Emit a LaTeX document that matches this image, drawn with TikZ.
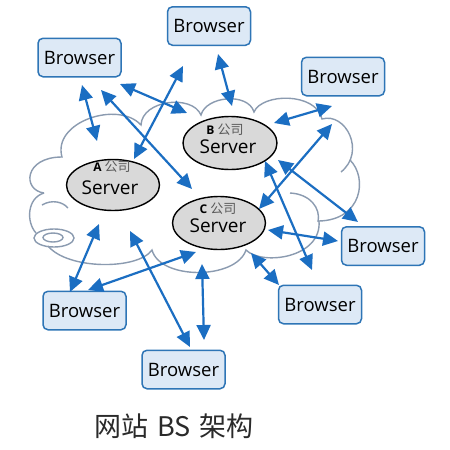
\documentclass[tikz,border=0pt]{standalone}
\usepackage{fontspec}
\setmainfont{Open Sans}
\newfontfamily\cjk{Noto Sans CJK SC}
\usetikzlibrary{arrows.meta,shapes.geometric}
\definecolor{boxfill}{HTML}{DDE9F6}
\definecolor{boxline}{HTML}{2E75B6}
\definecolor{arrblue}{HTML}{1B6EC2}
\definecolor{cloudline}{HTML}{8B9BB0}
\definecolor{srvfill}{HTML}{D9D9D9}
\definecolor{cjkgrey}{HTML}{5A5A5A}
\definecolor{titlecol}{HTML}{2A2A2A}
\tikzset{
  browser/.style={draw=boxline, fill=boxfill, line width=1.5pt, rounded corners=5pt,
    minimum width=83pt, minimum height=38.5pt, inner sep=0pt,
    font=\fontsize{18.5}{20}\selectfont},
  server/.style={ellipse, draw=black, fill=srvfill, line width=1.4pt, inner sep=0pt},
  srvtxt/.style={inner sep=0pt, font=\fontsize{19}{21}\selectfont},
  co/.style={inner sep=0pt, font=\fontsize{13}{14}\selectfont},
  cloud/.style={draw=cloudline, line width=1.4pt},
  biarrow/.style={draw=arrblue, line width=2.2pt,
    {Triangle[length=15pt,width=14pt]}-{Triangle[length=15pt,width=14pt]}}
}
\newcommand{\coname}[1]{{\fontsize{12}{13}\selectfont\bfseries #1}\hspace{3pt}{\cjk\color{cjkgrey}公司}}
\begin{document}
\begin{tikzpicture}[x=1pt,y=-1pt]
\useasboundingbox (0,0) rectangle (450,450);
\fill[white] (0,0) rectangle (450,450);

% cloud
\draw[cloud] (44,193) .. controls (22,190) and (24,157) .. (62,157)
  .. controls (52,122) and (118,100) .. (141,125)
  .. controls (142,100) and (192,94) .. (201,115)
  .. controls (206,96) and (248,92) .. (254,112)
  .. controls (262,93) and (316,92) .. (322,119)
  .. controls (346,112) and (366,152) .. (341,172);
\draw[cloud] (350,160) .. controls (368,178) and (362,220) .. (319,221)
  .. controls (322,258) and (262,266) .. (246,250)
  .. controls (236,280) and (160,280) .. (152,250)
  .. controls (138,270) and (68,270) .. (48,246);
\draw[cloud] (36,233) .. controls (26,222) and (27,198) .. (44,193);
\draw[cloud] (290,193) .. controls (310,194) and (321,208) .. (318,222);
\draw[cloud] (42,205) .. controls (52,199) and (63,202) .. (68,208);
\draw[cloud] (54,238) ellipse [x radius=20pt, y radius=9pt];
\draw[cloud] (53,237.5) ellipse [x radius=10pt, y radius=4.5pt];

% servers
\node[server, minimum width=93pt, minimum height=51pt] (A) at (113,185) {};
\node[server, minimum width=94pt, minimum height=53pt] (B) at (230,143) {};
\node[server, minimum width=93pt, minimum height=53pt] (C) at (219,223) {};
\node[co] (Alab) at (112,166.5) {\coname{A}};
\node[srvtxt] (Atxt) at (110,188) {Server};
\node[co] (Blab) at (225,129.5) {\coname{B}};
\node[srvtxt] (Btxt) at (228,146.5) {Server};
\node[co] (Clab) at (218,208.5) {\coname{C}};
\node[srvtxt] (Ctxt) at (218,226) {Server};

% browsers
\node[browser] (b1) at (79.5,57.5) {Browser};
\node[browser] (b2) at (209,26) {Browser};
\node[browser] (b3) at (343,76.5) {Browser};
\node[browser] (b4) at (383,246) {Browser};
\node[browser] (b5) at (320,304.5) {Browser};
\node[browser] (b6) at (183.5,369.5) {Browser};
\node[browser] (b7) at (84.5,310.5) {Browser};

% arrow end points
\coordinate (a1s) at (82,85);   \coordinate (a1e) at (97,141);
\coordinate (a2s) at (120,84);  \coordinate (a2e) at (187,113);
\coordinate (a3s) at (101,90);  \coordinate (a3e) at (192,189);
\coordinate (a4s) at (134,159); \coordinate (a4e) at (183,66);
\coordinate (a5s) at (218,54);  \coordinate (a5e) at (232,106);
\coordinate (a6s) at (274,123); \coordinate (a6e) at (332,106);
\coordinate (a7s) at (259,209); \coordinate (a7e) at (332,124);
\coordinate (a8s) at (278,160); \coordinate (a8e) at (358,222);
\coordinate (a9s) at (265,161); \coordinate (a9e) at (312,270);
\coordinate (a10s) at (268,230); \coordinate (a10e) at (338,241);
\coordinate (a11s) at (251,253); \coordinate (a11e) at (279,285);
\coordinate (a12s) at (202,264); \coordinate (a12e) at (204,340);
\coordinate (a13s) at (99,224);  \coordinate (a13e) at (70,292);
\coordinate (a14s) at (88,290);  \coordinate (a14e) at (196,252);
\coordinate (a15s) at (130,231); \coordinate (a15e) at (190,347);

\foreach \i in {1,...,15} {\draw[biarrow] (a\i s) -- (a\i e);}

% title
\node[inner sep=0pt, text=titlecol, font=\cjk\fontsize{27}{29}\selectfont] (title) at (174,426)
  {网站\hspace{9pt}BS\hspace{9pt}架构};
\end{tikzpicture}
\end{document}
